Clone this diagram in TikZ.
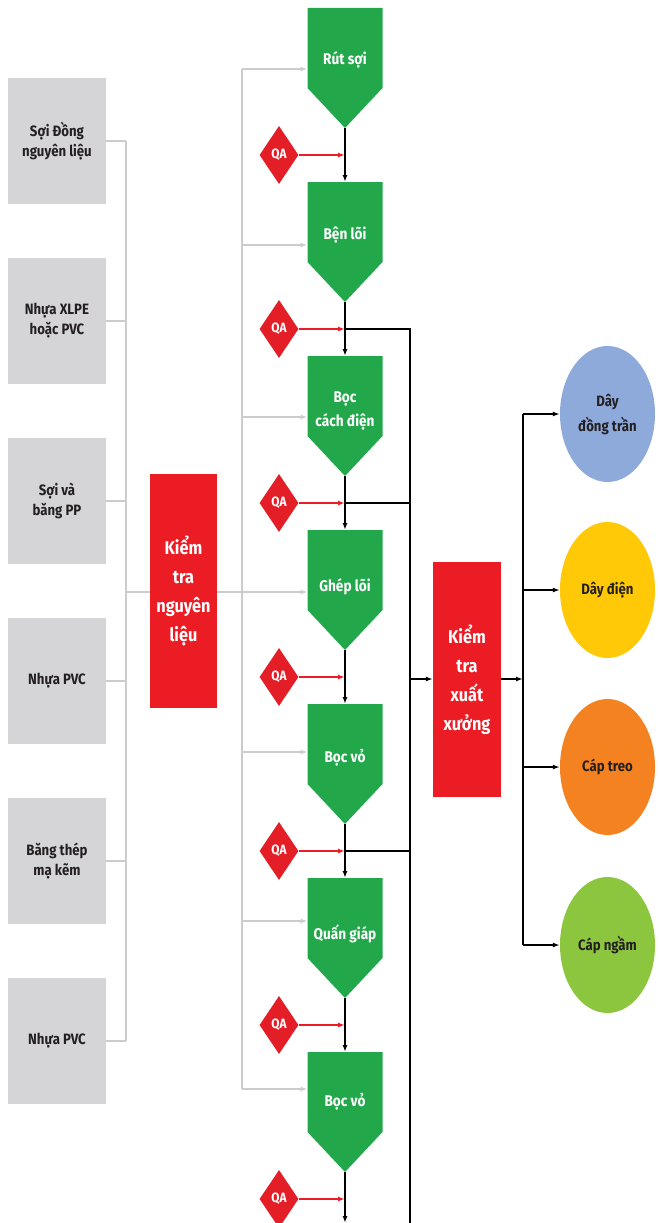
\documentclass[tikz,border=0pt]{standalone}
\usepackage{fontspec}
\setmainfont{Fira Sans}[FakeStretch=0.88]
\usetikzlibrary{arrows.meta,shapes.geometric,calc}
\definecolor{boxgray}{HTML}{D5D5D7}
\definecolor{linegray}{HTML}{CCCCCC}
\definecolor{pgreen}{HTML}{22A84B}
\definecolor{ared}{HTML}{EC1C24}
\definecolor{qared}{HTML}{E31E26}
\definecolor{cblue}{HTML}{8EAADB}
\definecolor{cyellow}{HTML}{FFC907}
\definecolor{corange}{HTML}{F58220}
\definecolor{cgreen}{HTML}{8CC63F}
\definecolor{ink}{HTML}{231F20}
\begin{document}
\begin{tikzpicture}[x=1pt,y=-1pt,
 rawbox/.style={fill=boxgray, minimum width=98pt, minimum height=126pt, inner sep=0pt, align=center, font=\bfseries\fontsize{15}{20}\selectfont, text=ink},
 redbox/.style={fill=ared, minimum width=67pt, minimum height=234pt, inner sep=0pt, align=center, text=white, font=\bfseries\fontsize{18.5}{29}\selectfont},
 ptext/.style={text=white, align=center, font=\bfseries\fontsize{15.5}{24}\selectfont, inner sep=0pt},
 qa/.style={diamond, fill=qared, minimum width=39pt, minimum height=58pt, inner sep=0pt, text=white, font=\bfseries\fontsize{13.5}{13}\selectfont},
 prod/.style={ellipse, minimum width=95pt, minimum height=136pt, inner sep=0pt, align=center, text=ink, font=\bfseries\fontsize{15}{25}\selectfont},
 gline/.style={draw=linegray, line width=1.5pt},
 garrow/.style={gline, -{Latex[length=7pt,width=5pt]}},
 bline/.style={draw=black, line width=1.6pt},
 barrow/.style={bline, -{Latex[length=7pt,width=5pt]}},
 rarrow/.style={draw=ared, line width=1.5pt, -{Latex[length=7pt,width=5pt]}},
]
\useasboundingbox[fill=white] (0,0) rectangle (659,1223);

% ---------- raw material boxes ----------
\foreach \i/\y/\txt in {1/141/{Sợi Đồng\\nguyên liệu},2/321/{Nhựa XLPE\\hoặc PVC},3/501/{Sợi và\\băng PP},4/681/{Nhựa PVC},5/861/{Băng thép\\mạ kẽm},6/1041/{Nhựa PVC}}{
  \node[rawbox] (b\i) at (57,\y) {\txt};
  \coordinate (tr\i) at (126,\y);
  \draw[gline] (b\i.east) -- (tr\i);
}
\draw[gline] (tr1) -- (tr6);

% ---------- process shapes ----------
\foreach \n/\t/\ty/\ay/\txt in {1/8/60/69/{Rút sợi},2/182/235/245/{Bện lõi},3/356/411/417/{Bọc\\cách điện},4/530/587/592/{Ghép lõi},5/704/758/752/{Bọc vỏ},6/878/934/921/{Quấn giáp},7/1052/1102/1089/{Bọc vỏ}}{
  \fill[pgreen] (307.5,\t) -- (382.5,\t) -- (382.5,\t+80) -- (345,\t+120) -- (307.5,\t+80) -- cycle;
  \coordinate (p\n n) at (345,\t);
  \coordinate (p\n s) at (345,\t+120);
  \coordinate (p\n w) at (307.5,\ay);
  \coordinate (g\n) at (242,\ay);
  \node[ptext] (p\n) at (345,\ty) {\txt};
}

% gray feeds to processes
\coordinate (tk) at (126,592);
\draw[gline] (g1) -- (g7);
\foreach \n in {1,2,3,5,6,7}{ \draw[garrow] (g\n) -- (p\n w); }
\draw[garrow] (tk) -- (p4w);

% first inspection box (over the gray line)
\node[redbox] (k1) at (183.5,591) {Kiểm\\tra\\nguyên\\liệu};

% ---------- QA diamonds ----------
\foreach \n/\y in {1/155,2/329,3/503,4/677,5/851,6/1025,7/1199}{
  \node[qa] (q\n) at (279,\y) {QA};
  \coordinate (j\n) at (345,\y);
}

% black flow
\foreach \a/\b in {1/2,2/3,3/4,4/5,5/6,6/7}{ \draw[barrow] (p\a s) -- (p\b n); }
\coordinate (pend) at (345,1223);
\draw[barrow] (p7s) -- (pend);

% red QA arrows
\foreach \n in {1,...,7}{ \draw[rarrow] (q\n.east) -- (j\n); }

% right collector trunk
\coordinate (r2) at (410,329);
\coordinate (r3) at (410,503);
\coordinate (r5) at (410,851);
\coordinate (rx) at (410,679);
\coordinate (rend) at (410,1223);
\draw[bline] (j2) -- (r2) -- (rend);
\draw[bline] (j3) -- (r3);
\draw[bline] (j5) -- (r5);

% final inspection box
\node[redbox, minimum width=68pt, minimum height=235pt] (k2) at (467,679.5) {Kiểm\\tra\\xuất\\xưởng};
\draw[barrow] (rx) -- (k2.west |- rx);
\coordinate (s0) at (523,679);
\draw[barrow] (k2.east |- s0) -- (s0);

% products
\node[prod, fill=cblue] (c1) at (607.5,414) {Dây\\đồng trần};
\node[prod, fill=cyellow] (c2) at (607.5,590) {Dây điện};
\node[prod, fill=corange] (c3) at (607.5,767) {Cáp treo};
\node[prod, fill=cgreen] (c4) at (607.5,945) {Cáp ngầm};
\foreach \n/\y in {1/414,2/590,3/767,4/945}{ \coordinate (s\n) at (523,\y); \draw[barrow] (s\n) -- (c\n.west); }
\draw[bline] (s1) -- (s4);
\end{tikzpicture}
\end{document}
